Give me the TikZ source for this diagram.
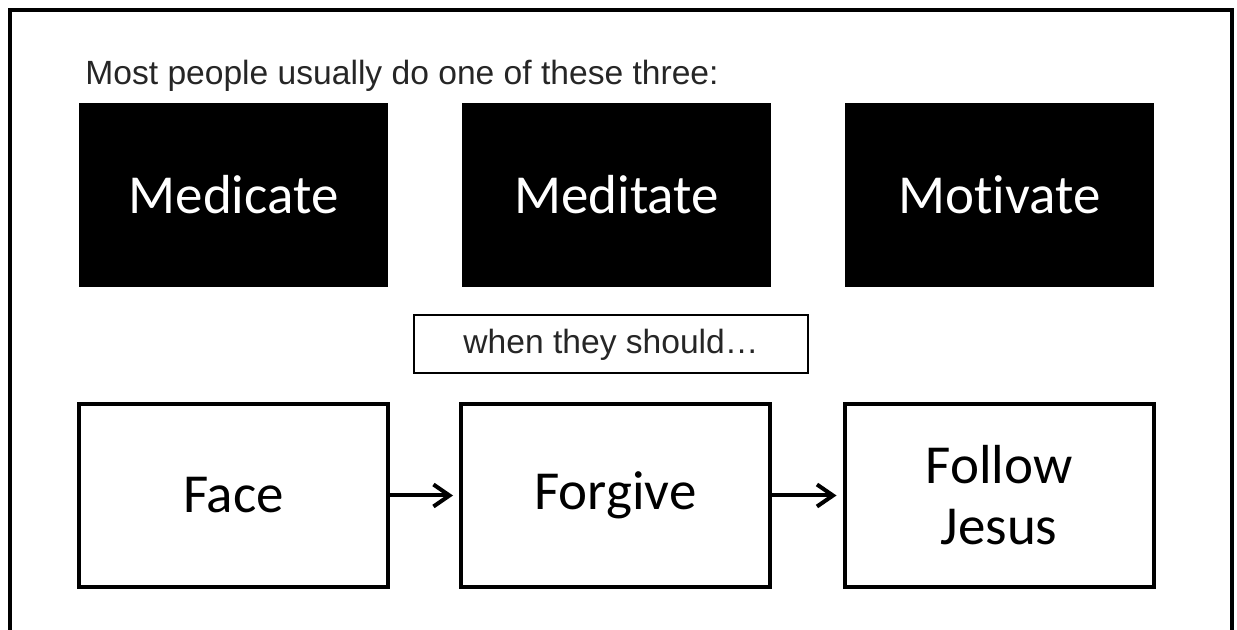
\documentclass[tikz,border=0pt]{standalone}
\usepackage{fontspec}
\setmainfont{Carlito}[Ligatures={NoCommon,NoContextual}]
\newfontfamily\arialfont{Liberation Sans}
\usetikzlibrary{ arrows.meta
               , positioning
               }

\begin{document}
\begin{tikzpicture}
      [ x=0.5pt, y=-0.5pt
      , dark/.style={fill=black, text=white, minimum width=154.5pt, minimum height=92pt, inner sep=0pt, font=\fontsize{27.5}{33}\selectfont}
      , light/.style={draw=black, line width=2pt, fill=white, minimum width=154.5pt, minimum height=91.5pt, inner sep=0pt, align=center, font=\fontsize{27.5}{30.5}\selectfont}
      , note/.style={draw=black, line width=1pt, minimum width=197pt, minimum height=29pt, inner sep=0pt, font=\arialfont\fontsize{16.8}{20}\selectfont, text=black!85}
      , flow/.style={-{Straight Barb[length=8pt, width=11pt, line width=2pt]}, line width=2pt, shorten >=3pt}
      ]
    \useasboundingbox (0,0) rectangle (1237,630);

    % frame, open at the bottom
    \draw[line width=2pt] (10,660) -- (10,10) -- (1232,10) -- (1232,660);

    \node[anchor=base west, font=\arialfont\fontsize{16.8}{20}\selectfont, text=black!85, inner sep=0pt]
      (title) at (85,85) {Most people usually do one of these three:};

    \node[dark] (medicate) at (233.5,195) {Medicate};
    \node[dark] (meditate) at (616.5,195) {Meditate};
    \node[dark] (motivate) at (999.5,195) {Motivate};

    \node[note] (should) at (611,344.5) {when they should\ldots};

    \node[light] (face)    at (233.5,495.5) {Face};
    \node[light] (forgive) at (615.5,495.5) {Forgive};
    \node[light] (follow)  at (999,495.5)   {Follow\\Jesus};

    \draw[flow]
    (face) edge (forgive)
    (forgive) edge (follow);
    \end{tikzpicture}
\end{document}
